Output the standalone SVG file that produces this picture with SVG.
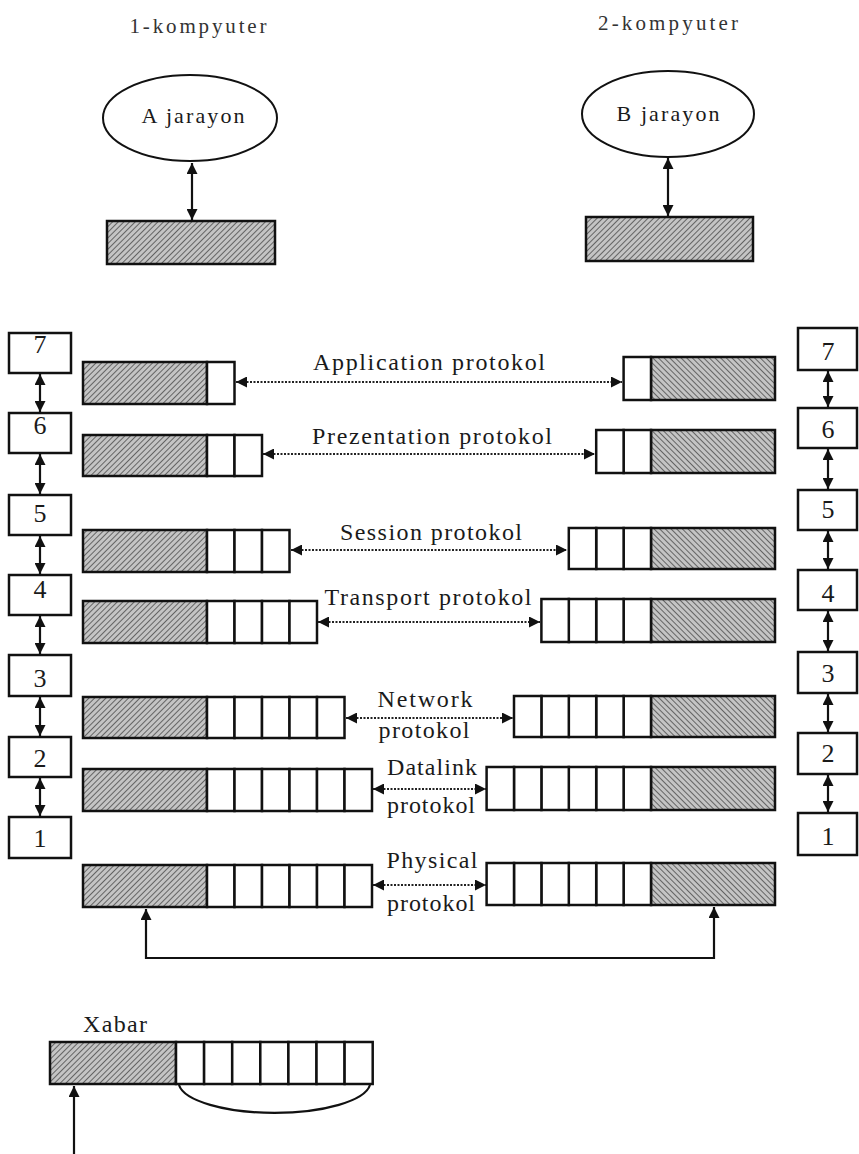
<svg xmlns="http://www.w3.org/2000/svg" width="859" height="1154" viewBox="0 0 859 1154">
<style>
text{font-family:"Liberation Serif","Times New Roman",serif;fill:#1a1a1a}
.t{font-size:24px}
.top{font-size:21px;fill:#333}
.dg{font-size:26px;text-anchor:middle}
.box{fill:#fff;stroke:#111;stroke-width:2.5}
.cell{fill:#fff;stroke:#111;stroke-width:2.5}
.hl{fill:url(#hatchL);stroke:#111;stroke-width:2.5}
.hr{fill:url(#hatchR);stroke:#111;stroke-width:2.5}
.ln{fill:none;stroke:#111;stroke-width:2.2}
.dot{fill:none;stroke:#222;stroke-width:2.2;stroke-dasharray:2 1.5}
</style>
<defs>
<pattern id="hatchL" width="4" height="4" patternUnits="userSpaceOnUse" patternTransform="rotate(45)">
<rect width="4" height="4" fill="#c4c4c4"/><line x1="0" y1="0" x2="0" y2="4" stroke="#444" stroke-width="1.5"/>
</pattern>
<pattern id="hatchR" width="4" height="4" patternUnits="userSpaceOnUse" patternTransform="rotate(-45)">
<rect width="4" height="4" fill="#c4c4c4"/><line x1="0" y1="0" x2="0" y2="4" stroke="#444" stroke-width="1.5"/>
</pattern>
<marker id="ah" viewBox="0 0 10 10" refX="10" refY="5" markerWidth="13" markerHeight="11" orient="auto-start-reverse" markerUnits="userSpaceOnUse">
<path d="M0,0 L10,5 L0,10 z" fill="#111"/>
</marker>
</defs>

<g id="titles">
<text class="top" x="198" y="33" text-anchor="middle" textLength="137" lengthAdjust="spacing">1-kompyuter</text>
<text class="top" x="668" y="30" text-anchor="middle" textLength="140" lengthAdjust="spacing">2-kompyuter</text>
</g>

<g id="procA">
<ellipse cx="190" cy="118" rx="87" ry="43" fill="#fff" stroke="#111" stroke-width="2"/>
<text x="193" y="123" text-anchor="middle" textLength="103" lengthAdjust="spacing" style="font-size:22px">A jarayon</text>
</g>
<g id="procB">
<ellipse cx="668" cy="114" rx="86" ry="43" fill="#fff" stroke="#111" stroke-width="2"/>
<text x="668" y="121" text-anchor="middle" textLength="103" lengthAdjust="spacing" style="font-size:22px">B jarayon</text>
</g>
<g id="msgA"><rect class="hl" x="107" y="221" width="168" height="43"/></g>
<g id="msgB"><rect class="hl" x="586" y="217" width="167" height="44"/></g>

<g id="leftStack">
<rect class="box" x="9" y="333" width="62" height="40"/><text class="dg" x="40" y="353">7</text>
<rect class="box" x="9" y="413" width="62" height="40"/><text class="dg" x="40" y="434">6</text>
<rect class="box" x="9" y="495" width="62" height="40"/><text class="dg" x="40" y="522">5</text>
<rect class="box" x="9" y="575" width="62" height="40"/><text class="dg" x="40" y="598">4</text>
<rect class="box" x="9" y="655" width="62" height="41"/><text class="dg" x="40" y="687">3</text>
<rect class="box" x="9" y="737" width="62" height="40"/><text class="dg" x="40" y="767">2</text>
<rect class="box" x="9" y="817" width="62" height="41"/><text class="dg" x="40" y="847">1</text>
</g>

<g id="rightStack">
<rect class="box" x="798" y="328" width="59" height="42"/><text class="dg" x="828" y="360">7</text>
<rect class="box" x="798" y="408" width="59" height="40"/><text class="dg" x="828" y="438">6</text>
<rect class="box" x="798" y="490" width="59" height="40"/><text class="dg" x="828" y="518">5</text>
<rect class="box" x="798" y="570" width="59" height="40"/><text class="dg" x="828" y="602">4</text>
<rect class="box" x="798" y="652" width="59" height="41"/><text class="dg" x="828" y="682">3</text>
<rect class="box" x="798" y="733" width="59" height="41"/><text class="dg" x="828" y="762">2</text>
<rect class="box" x="798" y="813" width="59" height="42"/><text class="dg" x="828" y="845">1</text>
</g>

<g id="leftBars">
<g id="L7"><rect class="hl" x="83" y="362" width="124" height="42"/><rect class="cell" x="207" y="362" width="27.5" height="42"/></g>
<g id="L6"><rect class="hl" x="83" y="435" width="124" height="41"/><rect class="cell" x="207" y="435" width="27.5" height="41"/><rect class="cell" x="234.5" y="435" width="27.5" height="41"/></g>
<g id="L5"><rect class="hl" x="83" y="530" width="124" height="42"/><rect class="cell" x="207" y="530" width="27.5" height="42"/><rect class="cell" x="234.5" y="530" width="27.5" height="42"/><rect class="cell" x="262" y="530" width="27.5" height="42"/></g>
<g id="L4"><rect class="hl" x="83" y="601" width="124" height="42"/><rect class="cell" x="207" y="601" width="27.5" height="42"/><rect class="cell" x="234.5" y="601" width="27.5" height="42"/><rect class="cell" x="262" y="601" width="27.5" height="42"/><rect class="cell" x="289.5" y="601" width="27.5" height="42"/></g>
<g id="L3"><rect class="hl" x="83" y="697" width="124" height="41"/><rect class="cell" x="207" y="697" width="27.5" height="41"/><rect class="cell" x="234.5" y="697" width="27.5" height="41"/><rect class="cell" x="262" y="697" width="27.5" height="41"/><rect class="cell" x="289.5" y="697" width="27.5" height="41"/><rect class="cell" x="317" y="697" width="27.5" height="41"/></g>
<g id="L2"><rect class="hl" x="83" y="769" width="124" height="42"/><rect class="cell" x="207" y="769" width="27.5" height="42"/><rect class="cell" x="234.5" y="769" width="27.5" height="42"/><rect class="cell" x="262" y="769" width="27.5" height="42"/><rect class="cell" x="289.5" y="769" width="27.5" height="42"/><rect class="cell" x="317" y="769" width="27.5" height="42"/><rect class="cell" x="344.5" y="769" width="27.5" height="42"/></g>
<g id="L1"><rect class="hl" x="83" y="865" width="124" height="42"/><rect class="cell" x="207" y="865" width="27.5" height="42"/><rect class="cell" x="234.5" y="865" width="27.5" height="42"/><rect class="cell" x="262" y="865" width="27.5" height="42"/><rect class="cell" x="289.5" y="865" width="27.5" height="42"/><rect class="cell" x="317" y="865" width="27.5" height="42"/><rect class="cell" x="344.5" y="865" width="27.5" height="42"/></g>
</g>

<g id="rightBars">
<g id="R7"><rect class="hr" x="651" y="357" width="124" height="43"/><rect class="cell" x="623.6" y="357" width="27.4" height="43"/></g>
<g id="R6"><rect class="hr" x="651" y="430" width="124" height="43"/><rect class="cell" x="623.6" y="430" width="27.4" height="43"/><rect class="cell" x="596.2" y="430" width="27.4" height="43"/></g>
<g id="R5"><rect class="hr" x="651" y="528" width="124" height="41"/><rect class="cell" x="623.6" y="528" width="27.4" height="41"/><rect class="cell" x="596.2" y="528" width="27.4" height="41"/><rect class="cell" x="568.8" y="528" width="27.4" height="41"/></g>
<g id="R4"><rect class="hr" x="651" y="599" width="124" height="43"/><rect class="cell" x="623.6" y="599" width="27.4" height="43"/><rect class="cell" x="596.2" y="599" width="27.4" height="43"/><rect class="cell" x="568.8" y="599" width="27.4" height="43"/><rect class="cell" x="541.4" y="599" width="27.4" height="43"/></g>
<g id="R3"><rect class="hr" x="651" y="696" width="124" height="41"/><rect class="cell" x="623.6" y="696" width="27.4" height="41"/><rect class="cell" x="596.2" y="696" width="27.4" height="41"/><rect class="cell" x="568.8" y="696" width="27.4" height="41"/><rect class="cell" x="541.4" y="696" width="27.4" height="41"/><rect class="cell" x="514" y="696" width="27.4" height="41"/></g>
<g id="R2"><rect class="hr" x="651" y="767" width="124" height="43"/><rect class="cell" x="623.6" y="767" width="27.4" height="43"/><rect class="cell" x="596.2" y="767" width="27.4" height="43"/><rect class="cell" x="568.8" y="767" width="27.4" height="43"/><rect class="cell" x="541.4" y="767" width="27.4" height="43"/><rect class="cell" x="514" y="767" width="27.4" height="43"/><rect class="cell" x="486.6" y="767" width="27.4" height="43"/></g>
<g id="R1"><rect class="hr" x="651" y="863" width="124" height="42"/><rect class="cell" x="623.6" y="863" width="27.4" height="42"/><rect class="cell" x="596.2" y="863" width="27.4" height="42"/><rect class="cell" x="568.8" y="863" width="27.4" height="42"/><rect class="cell" x="541.4" y="863" width="27.4" height="42"/><rect class="cell" x="514" y="863" width="27.4" height="42"/><rect class="cell" x="486.6" y="863" width="27.4" height="42"/></g>
</g>

<g id="xabar">
<text class="t" x="83" y="1032" textLength="64" lengthAdjust="spacing">Xabar</text>
<rect class="hl" x="50" y="1042" width="126" height="42"/>
<rect class="cell" x="176" y="1042" width="28.1" height="42"/>
<rect class="cell" x="204.1" y="1042" width="28.1" height="42"/>
<rect class="cell" x="232.2" y="1042" width="28.1" height="42"/>
<rect class="cell" x="260.3" y="1042" width="28.1" height="42"/>
<rect class="cell" x="288.4" y="1042" width="28.1" height="42"/>
<rect class="cell" x="316.5" y="1042" width="28.1" height="42"/>
<rect class="cell" x="344.6" y="1042" width="28.1" height="42"/>
<path class="ln" d="M179,1085 A96,31 0 0 0 370,1085" stroke-width="2"/>
</g>

<g id="labels">
<text class="t" x="429" y="370" text-anchor="middle" textLength="232" lengthAdjust="spacing">Application  protokol</text>
<text class="t" x="432" y="444" text-anchor="middle" textLength="240" lengthAdjust="spacing">Prezentation  protokol</text>
<text class="t" x="431" y="540" text-anchor="middle" textLength="182" lengthAdjust="spacing">Session  protokol</text>
<text class="t" x="428" y="605" text-anchor="middle" textLength="207" lengthAdjust="spacing">Transport  protokol</text>
<text class="t" x="425" y="707" text-anchor="middle" textLength="95" lengthAdjust="spacing">Network</text>
<text class="t" x="424" y="738" text-anchor="middle" textLength="91" lengthAdjust="spacing">protokol</text>
<text class="t" x="432" y="775" text-anchor="middle" textLength="90" lengthAdjust="spacing">Datalink</text>
<text class="t" x="431" y="813" text-anchor="middle" textLength="88" lengthAdjust="spacing">protokol</text>
<text class="t" x="432" y="868" text-anchor="middle" textLength="91" lengthAdjust="spacing">Physical</text>
<text class="t" x="431" y="911" text-anchor="middle" textLength="88" lengthAdjust="spacing">protokol</text>
</g>

<g id="connectors">
<line class="ln" x1="192" y1="163" x2="192" y2="220" marker-start="url(#ah)" marker-end="url(#ah)"/>
<line class="ln" x1="668" y1="158" x2="668" y2="216" marker-start="url(#ah)" marker-end="url(#ah)"/>

<line class="ln" x1="40" y1="374" x2="40" y2="412" marker-start="url(#ah)" marker-end="url(#ah)"/>
<line class="ln" x1="40" y1="454" x2="40" y2="494" marker-start="url(#ah)" marker-end="url(#ah)"/>
<line class="ln" x1="40" y1="536" x2="40" y2="574" marker-start="url(#ah)" marker-end="url(#ah)"/>
<line class="ln" x1="40" y1="616" x2="40" y2="654" marker-start="url(#ah)" marker-end="url(#ah)"/>
<line class="ln" x1="40" y1="697" x2="40" y2="736" marker-start="url(#ah)" marker-end="url(#ah)"/>
<line class="ln" x1="40" y1="778" x2="40" y2="816" marker-start="url(#ah)" marker-end="url(#ah)"/>

<line class="ln" x1="828" y1="371" x2="828" y2="407" marker-start="url(#ah)" marker-end="url(#ah)"/>
<line class="ln" x1="828" y1="449" x2="828" y2="489" marker-start="url(#ah)" marker-end="url(#ah)"/>
<line class="ln" x1="828" y1="531" x2="828" y2="569" marker-start="url(#ah)" marker-end="url(#ah)"/>
<line class="ln" x1="828" y1="611" x2="828" y2="651" marker-start="url(#ah)" marker-end="url(#ah)"/>
<line class="ln" x1="828" y1="694" x2="828" y2="732" marker-start="url(#ah)" marker-end="url(#ah)"/>
<line class="ln" x1="828" y1="775" x2="828" y2="812" marker-start="url(#ah)" marker-end="url(#ah)"/>

<line class="dot" x1="236" y1="382" x2="622" y2="382" marker-start="url(#ah)" marker-end="url(#ah)"/>
<line class="dot" x1="263" y1="454" x2="595" y2="454" marker-start="url(#ah)" marker-end="url(#ah)"/>
<line class="dot" x1="291" y1="550" x2="567" y2="550" marker-start="url(#ah)" marker-end="url(#ah)"/>
<line class="dot" x1="318" y1="622" x2="540" y2="622" marker-start="url(#ah)" marker-end="url(#ah)"/>
<line class="dot" x1="346" y1="718" x2="513" y2="718" marker-start="url(#ah)" marker-end="url(#ah)"/>
<line class="dot" x1="373" y1="789" x2="486" y2="789" marker-start="url(#ah)" marker-end="url(#ah)"/>
<line class="dot" x1="373" y1="885" x2="486" y2="885" marker-start="url(#ah)" marker-end="url(#ah)"/>

<path class="ln" d="M146,909 V958 H714 V907" marker-start="url(#ah)" marker-end="url(#ah)"/>
<line class="ln" x1="74" y1="1154" x2="74" y2="1086" marker-end="url(#ah)"/>
</g>
</svg>
